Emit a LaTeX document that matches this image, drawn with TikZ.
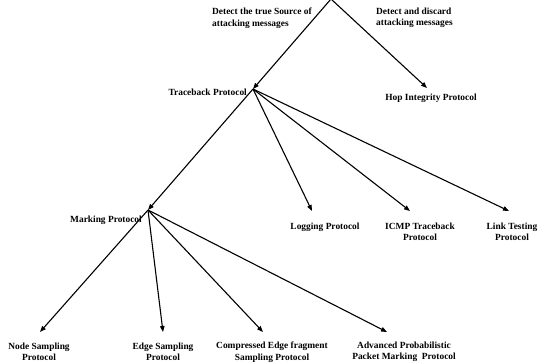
\documentclass[tikz,border=0pt]{standalone}
\usepackage{fontspec}
\setmainfont{Liberation Serif}
\usetikzlibrary{arrows.meta}
\newcommand{\protlabel}[3]{%
  \node[lab] (#1) at (#2) {#3};%
}

\begin{document}
\begin{tikzpicture}[x=1pt,y=-1pt,
    lab/.style={align=center,inner sep=0pt,
      font=\fontsize{9.4}{11.5}\selectfont\bfseries},
    branch/.style={line width=1.1pt,
      -{Triangle[length=6pt,width=4.5pt]}}]
  \useasboundingbox (0,0) rectangle (540,362);

  % junction points and arrow ends
  \coordinate (apex) at (331,-1);
  \coordinate (tb) at (253,89);
  \coordinate (mk) at (148,210);
  \coordinate (hoptip) at (427,88);
  \coordinate (logtip) at (312,211);
  \coordinate (icmptip) at (410,211);
  \coordinate (linktip) at (509,211);
  \coordinate (nodetip) at (40,332);
  \coordinate (edgetip) at (163,332);
  \coordinate (comptip) at (263,332);
  \coordinate (advtip) at (387,332);

  % top goals
  \node[lab,align=left,anchor=west] (srcgoal) at (212,18)
    {Detect the true Source of\\attacking messages};
  \node[lab,align=left,anchor=west] (dropgoal) at (376,18)
    {Detect and discard\\attacking messages};

  \node[lab,anchor=east] (trace) at (247,92) {Traceback Protocol};
  \protlabel{hop}{431,98}{Hop Integrity Protocol}
  \node[lab,anchor=east] (mark) at (142,220) {Marking Protocol};
  \protlabel{logg}{325,227}{Logging Protocol}
  \protlabel{icmp}{420,232}{ICMP Traceback\\Protocol}
  \protlabel{link}{512,232}{Link Testing\\Protocol}
  \protlabel{nodes}{39,352}{Node Sampling\\Protocol}
  \protlabel{edges}{163,352}{Edge Sampling\\Protocol}
  \protlabel{comp}{272,352}{Compressed Edge fragment\\Sampling Protocol}
  \protlabel{adv}{404,352}{Advanced Probabilistic\\Packet Marking\ \ Protocol}

  \draw[branch] (apex) -- (tb);
  \draw[branch] (apex) -- (hoptip);
  \draw[branch] (tb) -- (mk);
  \foreach \t in {logtip,icmptip,linktip}
    \draw[branch] (tb) -- (\t);
  \foreach \t in {nodetip,edgetip,comptip,advtip}
    \draw[branch] (mk) -- (\t);
\end{tikzpicture}
\end{document}
